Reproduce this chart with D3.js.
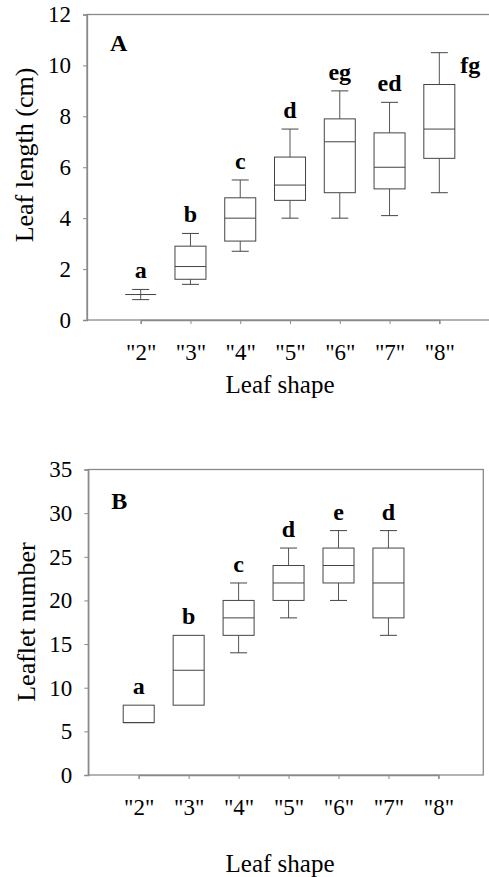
<!DOCTYPE html>
<html>
<head>
<meta charset="utf-8">
<script src="https://cdn.jsdelivr.net/npm/d3@7"></script>
<style>
  body { margin: 0; background: #fff; }
  svg { display: block; font-family: "Liberation Serif", "Times New Roman", serif; }
</style>
</head>
<body>
<div id="chart"></div>
<script>
const width = 489,
    height = 877;

// categories
const shapes = ['"2"', '"3"', '"4"', '"5"', '"6"', '"7"', '"8"'];

// panel A: leaf length (cm)
const lenMin = [0.8, 1.4, 2.7, 4.0, 4.0, 4.1, 5.0];
const lenQ1  = [1.0, 1.6, 3.1, 4.7, 5.0, 5.15, 6.35];
const lenMed = [1.0, 2.1, 4.0, 5.3, 7.0, 6.0, 7.5];
const lenQ3  = [1.0, 2.9, 4.8, 6.4, 7.9, 7.35, 9.25];
const lenMax = [1.2, 3.4, 5.5, 7.5, 9.0, 8.55, 10.5];
const lenGroups = ["a", "b", "c", "d", "eg", "ed", "fg"];
const lenTicks = [0, 2, 4, 6, 8, 10, 12];

// panel B: leaflet number ("8" has no data)
const leafMin = [6, 8, 14, 18, 20, 16, null];
const leafQ1  = [6, 8, 16, 20, 22, 18, null];
const leafMed = [6, 12, 18, 22, 24, 22, null];
const leafQ3  = [8, 16, 20, 24, 26, 26, null];
const leafMax = [8, 16, 22, 26, 28, 28, null];
const leafGroups = ["a", "b", "c", "d", "e", "d", null];
const leafTicks = [0, 5, 10, 15, 20, 25, 30, 35];

const svg = d3.select("#chart").append("svg")
    .attr("width", width)
    .attr("height", height);

function makeRows(mins, q1s, meds, q3s, maxs, groups) {
    return shapes.map((s, i) => ({
        shape: s, min: mins[i], q1: q1s[i], med: meds[i], q3: q3s[i], max: maxs[i], group: groups[i]
    })).filter(d => d.min !== null);
}

function drawPanel(p) {
    const x = d3.scalePoint()
        .domain(shapes)
        .range([p.left + p.firstOffset, p.left + p.firstOffset + p.step * (shapes.length - 1)]);
    const y = d3.scaleLinear()
        .domain([0, p.ticks[p.ticks.length - 1]])
        .range([p.bottom, p.top]);

    const g = svg.append("g");

    // frame
    g.append("rect")
        .attr("x", p.left)
        .attr("y", p.top)
        .attr("width", p.right - p.left)
        .attr("height", p.bottom - p.top)
        .attr("fill", "none")
        .attr("stroke", "#8a8a8a")
        .attr("stroke-width", 1.3);

    // y axis
    const yAxis = g.append("g")
        .attr("transform", `translate(${p.left},0)`)
        .call(d3.axisLeft(y).tickValues(p.ticks).tickSize(4).tickPadding(12));
    yAxis.select(".domain").attr("stroke", "#8a8a8a").attr("stroke-width", 1.3);
    yAxis.selectAll(".tick line").attr("stroke", "#8a8a8a");
    yAxis.selectAll("text")
        .attr("font-size", 23)
        .attr("font-family", "Liberation Serif")
        .attr("fill", "#000");

    // x axis
    const xAxis = g.append("g")
        .attr("transform", `translate(0,${p.bottom})`)
        .call(d3.axisBottom(x).tickSize(4).tickPadding(20));
    xAxis.select(".domain").attr("stroke", "#8a8a8a").attr("stroke-width", 1.3);
    xAxis.selectAll(".tick line").attr("stroke", "#8a8a8a");
    xAxis.selectAll("text")
        .attr("font-size", 23)
        .attr("font-family", "Liberation Serif")
        .attr("fill", "#000");

    const boxW = 31, capW = 17;
    const boxes = g.selectAll("g.box")
        .data(p.rows)
        .join("g")
        .attr("class", "box");

    // whiskers
    boxes.append("line")
        .attr("x1", d => x(d.shape)).attr("x2", d => x(d.shape))
        .attr("y1", d => y(d.max)).attr("y2", d => y(d.q3))
        .attr("stroke", "#555");
    boxes.append("line")
        .attr("x1", d => x(d.shape)).attr("x2", d => x(d.shape))
        .attr("y1", d => y(d.q1)).attr("y2", d => y(d.min))
        .attr("stroke", "#555");
    boxes.filter(d => d.max > d.q3).append("line")
        .attr("x1", d => x(d.shape) - capW / 2).attr("x2", d => x(d.shape) + capW / 2)
        .attr("y1", d => y(d.max)).attr("y2", d => y(d.max))
        .attr("stroke", "#444");
    boxes.filter(d => d.min < d.q1).append("line")
        .attr("x1", d => x(d.shape) - capW / 2).attr("x2", d => x(d.shape) + capW / 2)
        .attr("y1", d => y(d.min)).attr("y2", d => y(d.min))
        .attr("stroke", "#444");

    // box + median
    boxes.append("rect")
        .attr("x", d => x(d.shape) - boxW / 2)
        .attr("y", d => y(d.q3))
        .attr("width", boxW)
        .attr("height", d => y(d.q1) - y(d.q3))
        .attr("fill", "#fff")
        .attr("stroke", "#444");
    boxes.append("line")
        .attr("x1", d => x(d.shape) - boxW / 2).attr("x2", d => x(d.shape) + boxW / 2)
        .attr("y1", d => y(d.med)).attr("y2", d => y(d.med))
        .attr("stroke", "#444");

    // significance letters
    boxes.append("text")
        .attr("x", d => x(d.shape) + (p.nudge[d.group] ? p.nudge[d.group][0] : 0))
        .attr("y", d => y(d.max) + (p.nudge[d.group] ? p.nudge[d.group][1] : -11))
        .attr("text-anchor", "middle")
        .attr("font-size", 24)
        .attr("font-weight", "bold")
        .text(d => d.group);

    // panel letter
    g.append("text")
        .attr("x", p.left + 23)
        .attr("y", p.top + p.panelDy)
        .attr("font-size", 24)
        .attr("font-weight", "bold")
        .text(p.panel);

    // axis titles
    g.append("text")
        .attr("transform", `translate(${p.yTitleX},${p.yTitleY}) rotate(-90)`)
        .attr("text-anchor", "middle")
        .attr("font-size", 26)
        .text(p.yTitle);
    g.append("text")
        .attr("x", 280)
        .attr("y", p.xTitleY)
        .attr("text-anchor", "middle")
        .attr("font-size", 25)
        .text("Leaf shape");
}

drawPanel({
    panel: "A", panelDy: 36,
    left: 87, right: 491, top: 14.5, bottom: 320,
    firstOffset: 53.7, step: 49.77,
    ticks: lenTicks,
    rows: makeRows(lenMin, lenQ1, lenMed, lenQ3, lenMax, lenGroups),
    nudge: { fg: [31, 20] },
    yTitle: "Leaf length (cm)", yTitleX: 33, yTitleY: 155,
    xTitleY: 393
});

drawPanel({
    panel: "B", panelDy: 39,
    left: 88.3, right: 483.3, top: 469.5, bottom: 775,
    firstOffset: 50.4, step: 49.95,
    ticks: leafTicks,
    rows: makeRows(leafMin, leafQ1, leafMed, leafQ3, leafMax, leafGroups),
    nudge: {},
    yTitle: "Leaflet number", yTitleX: 35, yTitleY: 622,
    xTitleY: 872
});
</script>
</body>
</html>
